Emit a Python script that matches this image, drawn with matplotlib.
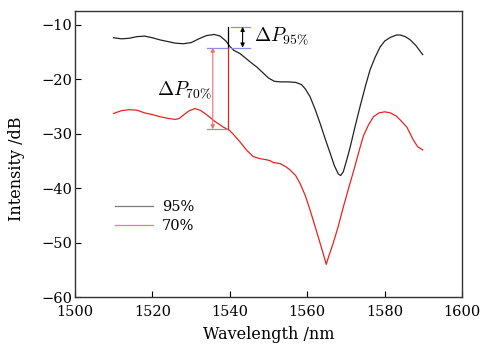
import matplotlib
matplotlib.use('Agg')
import matplotlib.pyplot as plt

# spectra (wavelength in nm, intensity in dB)
wl_95 = [1510, 1512, 1514, 1516, 1518, 1520, 1522, 1524, 1526, 1528, 1530, 1532, 1534, 1536,
         1537.5, 1539, 1540, 1541, 1542.6, 1544, 1545.2, 1547, 1548.5, 1550, 1551.5, 1553,
         1555, 1557, 1558.5, 1559.5, 1560.7, 1562, 1563.3, 1564.6, 1566, 1567, 1568, 1568.6,
         1569.3, 1570.2, 1571.1, 1572.3, 1573.6, 1575, 1576.2, 1577.5, 1578.8, 1580, 1581.4,
         1583, 1584, 1585.3, 1586.6, 1588, 1589.8]
int_95 = [-12.4, -12.6, -12.5, -12.2, -12.1, -12.4, -12.8, -13.1, -13.4, -13.5, -13.3, -12.6,
          -12.0, -11.8, -12.1, -13.0, -14.0, -14.7, -15.3, -16.1, -16.8, -17.8, -18.8, -19.8,
          -20.4, -20.5, -20.5, -20.6, -21.0, -21.8, -23.2, -25.5, -28.1, -30.9, -33.8, -35.9,
          -37.4, -37.7, -37.0, -34.8, -32.4, -28.8, -25.1, -21.3, -18.3, -16.0, -14.1, -13.0,
          -12.35, -11.9, -11.9, -12.2, -12.8, -13.8, -15.5]

wl_70 = [1510, 1512, 1514, 1516, 1518, 1520, 1522, 1524, 1526, 1527, 1528, 1529.5, 1531, 1532.3,
         1533.6, 1535, 1536.2, 1537.3, 1538.3, 1539.9, 1541, 1542.6, 1544.3, 1546, 1547.8,
         1549.5, 1550.5, 1551.2, 1553, 1554.5, 1555.6, 1557, 1558.1, 1559.5, 1560.7, 1562,
         1563.3, 1564.3, 1564.9, 1565.5, 1566.7, 1568, 1569.3, 1570.6, 1571.9, 1573.6, 1574.5,
         1575.8, 1577.1, 1578.5, 1580, 1581.5, 1583, 1584, 1585.7, 1587.4, 1588.5, 1589.8]
int_70 = [-26.3, -25.8, -25.6, -25.7, -26.2, -26.5, -26.9, -27.2, -27.4, -27.2, -26.6, -25.8,
          -25.4, -25.7, -26.3, -27.1, -27.8, -28.3, -28.8, -29.4, -30.2, -31.5, -33.0, -34.2,
          -34.6, -34.8, -35.0, -35.3, -35.5, -36.1, -36.7, -37.7, -39.1, -41.4, -44.0, -47.0,
          -50.1, -52.5, -54.0, -52.6, -50.1, -47.0, -43.5, -40.2, -37.0, -32.6, -30.4, -28.4,
          -26.9, -26.2, -26.0, -26.2, -26.8, -27.5, -28.8, -31.2, -32.4, -33.0]

labels = ['95%', '70%']
colors = ['#222222', '#e8231f']

# power differences marked at 1539.6 nm
x_mark = 1539.6
dp95 = (-10.4, -14.2)
dp70 = (-14.2, -29.2)

plt.rcParams['font.family'] = 'serif'
plt.rcParams['font.serif'] = ['DejaVu Serif']
plt.rcParams['mathtext.fontset'] = 'cm'

fig = plt.figure(figsize=(4.83, 3.45), dpi=100)
ax = fig.add_axes([0.155, 0.139, 0.802, 0.829])

ax.plot(wl_95, int_95, color=colors[0], lw=0.9, label=labels[0])
ax.plot(wl_70, int_70, color=colors[1], lw=0.9, label=labels[1])

blue = '#8c8fe0'
# delta P 95%
ax.plot([1540.2, 1545.2], [dp95[0], dp95[0]], color=blue, lw=0.9)
ax.plot([1540.2, 1545.2], [dp95[1], dp95[1]], color=blue, lw=0.9)
ax.plot([x_mark, x_mark], dp95, color='black', lw=0.9)
ax.annotate('', xy=(1543.3, dp95[0]), xytext=(1543.3, dp95[1]),
            arrowprops=dict(arrowstyle='<|-|>', color='black', lw=0.8,
                            mutation_scale=6, shrinkA=0, shrinkB=0))
ax.text(1546.2, -12.0, r'$\Delta P_{95\%}$', fontsize=14, va='center')

# delta P 70%
ax.plot([1534.0, 1539.5], [dp70[0], dp70[0]], color=blue, lw=0.9)
ax.plot([1534.0, 1539.5], [dp70[1], dp70[1]], color=blue, lw=0.9)
ax.plot([x_mark, x_mark], dp70, color=colors[1], lw=0.9)
ax.annotate('', xy=(1535.6, dp70[0]), xytext=(1535.6, dp70[1]),
            arrowprops=dict(arrowstyle='<|-|>', color='#f07070', lw=0.8,
                            mutation_scale=6, shrinkA=0, shrinkB=0))
ax.text(1521.3, -22.0, r'$\Delta P_{70\%}$', fontsize=14, va='center')

ax.set_xlim(1500, 1600)
ax.set_ylim(-60, -7.5)
ax.set_xticks([1500, 1520, 1540, 1560, 1580, 1600])
ax.set_yticks([-60, -50, -40, -30, -20, -10])
ax.tick_params(direction='in', length=4, width=0.8, labelsize=10.5)
ax.tick_params(axis='x', pad=6)
ax.tick_params(axis='y', pad=2)
for s in ax.spines.values():
    s.set_linewidth(1.0)
    s.set_color('#333333')

ax.set_xlabel('Wavelength /nm', fontsize=11.5)
ax.set_ylabel('Intensity /dB', fontsize=11.5)
ax.xaxis.set_label_coords(0.5, -0.1)
ax.yaxis.set_label_coords(-0.13, 0.45)

leg = ax.legend(loc='upper left', bbox_to_anchor=(0.07, 0.385), frameon=False,
                fontsize=10.5, handlelength=2.6, handletextpad=0.6, labelspacing=0.35)
for h in leg.get_lines():
    h.set_alpha(0.6)

fig.savefig('out.png', dpi=100)
